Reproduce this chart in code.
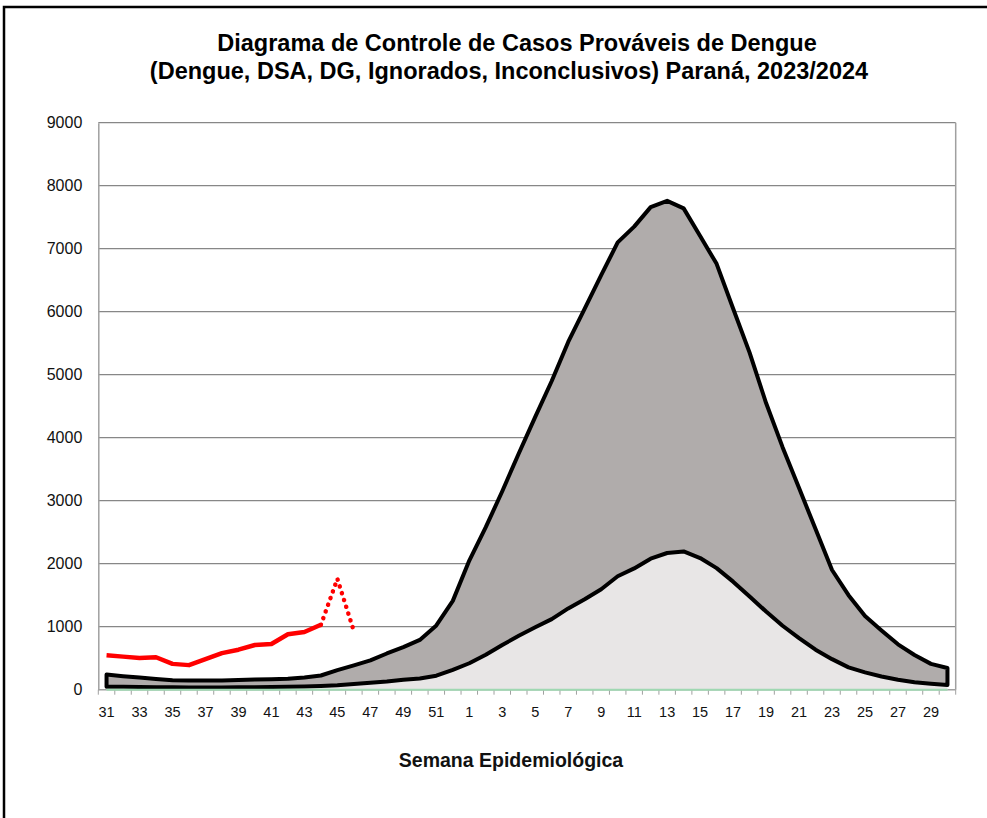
<!DOCTYPE html>
<html>
<head>
<meta charset="utf-8">
<script src="https://cdn.jsdelivr.net/npm/d3@7"></script>
<style>
  body { margin: 0; background: #fff; }
  svg { display: block; font-family: "Liberation Sans", Arial, sans-serif; }
</style>
</head>
<body>
<figure style="margin:0"></figure>
<script>
// semanas epidemiológicas 31/2023 .. 30/2024
const semanas = [
  "31", "32", "33", "34", "35", "36", "37", "38", "39", "40", "41",
  "42", "43", "44", "45", "46", "47", "48", "49", "50", "51", "52",
  "1", "2", "3", "4", "5", "6", "7", "8", "9", "10", "11", "12", "13",
  "14", "15", "16", "17", "18", "19", "20", "21", "22", "23", "24",
  "25", "26", "27", "28", "29", "30",
];

// limite superior do canal endêmico
const limiteSuperior = [
  240, 215, 195, 170, 150, 145, 145, 148, 155, 160, 165,
  172, 195, 225, 310, 385, 465, 575, 675, 790, 1020, 1410,
  2050, 2580, 3150, 3750, 4330, 4900, 5520, 6050, 6580, 7100, 7350, 7660, 7760,
  7640, 7200, 6760, 6050, 5350, 4550, 3850, 3200, 2550, 1900, 1500,
  1170, 940, 720, 550, 410, 345,
];

// mediana
const mediana = [
  45, 45, 42, 40, 38, 35, 35, 36, 38, 40, 42,
  45, 50, 58, 70, 90, 110, 130, 158, 178, 222, 316,
  420, 555, 710, 855, 990, 1120, 1290, 1435, 1595, 1800, 1925, 2080, 2170,
  2195, 2090, 1930, 1715, 1480, 1240, 1015, 820, 635, 485, 355,
  275, 210, 158, 118, 95, 75,
];

// limite inferior
const limiteInferior = [
  0, 0, 0, 0, 0, 0, 0, 0, 0, 0, 0,
  0, 0, 0, 0, 0, 0, 0, 0, 0, 0, 0,
  0, 0, 0, 0, 0, 0, 0, 0, 0, 0, 0, 0, 0,
  0, 0, 0, 0, 0, 0, 0, 0, 0, 0, 0,
  0, 0, 0, 0, 0, 0,
];

// casos prováveis 2023/2024 (semanas 31..46); as duas últimas ainda em revisão
const casos2324 = [545, 525, 505, 515, 410, 390, 485, 580, 635, 710, 725, 880, 915, 1030, 1760, 930];
const semanasProvisorias = 2;

const yTicks = [0, 1000, 2000, 3000, 4000, 5000, 6000, 7000, 8000, 9000];

const width = 987;
const height = 818;
const margin = { top: 122.7, right: 31.3, bottom: 128.3, left: 98.3 };

const draw = () => {
  const svg = d3
    .select("figure")
    .append("svg")
    .attr("width", width)
    .attr("height", height);

  // moldura externa
  svg
    .append("rect")
    .attr("x", 4)
    .attr("y", 7)
    .attr("width", width + 10)
    .attr("height", height + 10)
    .attr("fill", "none")
    .attr("stroke", "#000")
    .attr("stroke-width", 2.5);

  const x = d3
    .scaleBand()
    .domain(semanas)
    .range([margin.left, width - margin.right])
    .padding(0);
  const cx = (s) => x(s) + x.bandwidth() / 2;

  const y = d3
    .scaleLinear()
    .domain([0, 9000])
    .range([height - margin.bottom, margin.top]);

  // título
  const title = svg
    .append("text")
    .attr("text-anchor", "middle")
    .attr("font-weight", "bold")
    .attr("font-size", 23.5)
    .attr("fill", "#000");
  title.append("tspan").attr("x", 517).attr("y", 51).text("Diagrama de Controle de Casos Prováveis de Dengue");
  title
    .append("tspan")
    .attr("x", 509)
    .attr("y", 79)
    .text("(Dengue, DSA, DG, Ignorados, Inconclusivos) Paraná, 2023/2024");

  // grade horizontal
  svg
    .append("g")
    .selectAll("line")
    .data(yTicks.filter((d) => d > 0))
    .join("line")
    .attr("x1", margin.left)
    .attr("x2", width - margin.right)
    .attr("y1", (d) => y(d))
    .attr("y2", (d) => y(d))
    .attr("stroke", "#878787")
    .attr("stroke-width", 1.3);

  // bordas da área de plotagem
  svg
    .append("line")
    .attr("x1", width - margin.right)
    .attr("x2", width - margin.right)
    .attr("y1", margin.top)
    .attr("y2", y(0))
    .attr("stroke", "#a0a0a0")
    .attr("stroke-width", 1.5);

  const yAxis = d3
    .axisLeft(y)
    .tickValues(yTicks)
    .tickSize(0)
    .tickPadding(16)
    .tickFormat(d3.format("d"));
  svg
    .append("g")
    .attr("transform", `translate(${margin.left},0)`)
    .call(yAxis)
    .call((g) => g.select(".domain").attr("stroke", "#a0a0a0").attr("stroke-width", 1.5))
    .call((g) =>
      g.selectAll("text").attr("font-size", 16).attr("fill", "#111").attr("font-family", "Liberation Sans, Arial")
    );

  // eixo x: marcas nas divisas das semanas, rótulos a cada 2 semanas
  const xAxisG = svg.append("g").attr("transform", `translate(0,${y(0)})`);
  xAxisG
    .append("line")
    .attr("x1", margin.left)
    .attr("x2", width - margin.right)
    .attr("stroke", "#a0a0a0")
    .attr("stroke-width", 1.5);
  xAxisG
    .selectAll("line.tick")
    .data([...semanas.map((s) => x(s)), width - margin.right])
    .join("line")
    .attr("class", "tick")
    .attr("x1", (d) => d)
    .attr("x2", (d) => d)
    .attr("y1", 0)
    .attr("y2", 5)
    .attr("stroke", "#a0a0a0")
    .attr("stroke-width", 1);
  xAxisG
    .selectAll("text")
    .data(semanas.filter((_, i) => i % 2 === 0))
    .join("text")
    .attr("x", (d) => cx(d))
    .attr("y", 27)
    .attr("text-anchor", "middle")
    .attr("font-size", 14.5)
    .attr("fill", "#111")
    .text((d) => d);

  svg
    .append("text")
    .attr("x", 511)
    .attr("y", 767)
    .attr("text-anchor", "middle")
    .attr("font-weight", "bold")
    .attr("font-size", 19.5)
    .attr("fill", "#111")
    .text("Semana Epidemiológica");

  const rows = semanas.map((s, i) => ({
    s,
    sup: limiteSuperior[i],
    med: mediana[i],
    inf: limiteInferior[i],
  }));

  // área abaixo da mediana
  svg
    .append("path")
    .datum(rows)
    .attr("fill", "#e8e6e6")
    .attr(
      "d",
      d3
        .area()
        .x((d) => cx(d.s))
        .y0((d) => y(d.inf))
        .y1((d) => y(d.med))
    );

  // faixa entre mediana e limite superior (contornada)
  svg
    .append("path")
    .datum(rows)
    .attr("fill", "#b0acab")
    .attr("stroke", "#000")
    .attr("stroke-width", 4)
    .attr("stroke-linejoin", "round")
    .attr(
      "d",
      d3
        .area()
        .x((d) => cx(d.s))
        .y0((d) => y(d.med))
        .y1((d) => y(d.sup))
    );

  // limite inferior
  svg
    .append("path")
    .datum(rows)
    .attr("fill", "none")
    .attr("stroke", "#9fd8b2")
    .attr("stroke-width", 2)
    .attr(
      "d",
      d3
        .line()
        .x((d) => cx(d.s))
        .y((d) => y(d.inf))
    );

  // casos 2023/2024
  const casos = casos2324.map((v, i) => ({ s: semanas[i], v }));
  const casoLine = d3
    .line()
    .x((d) => cx(d.s))
    .y((d) => y(d.v));
  const nFirme = casos.length - semanasProvisorias;

  svg
    .append("path")
    .datum(casos.slice(0, nFirme))
    .attr("fill", "none")
    .attr("stroke", "#ff0000")
    .attr("stroke-width", 4.5)
    .attr("stroke-linejoin", "round")
    .attr("d", casoLine);

  svg
    .append("path")
    .datum(casos.slice(nFirme - 1))
    .attr("fill", "none")
    .attr("stroke", "#ff0000")
    .attr("stroke-width", 4.5)
    .attr("stroke-linecap", "round")
    .attr("stroke-dasharray", "0.1 7")
    .attr("d", casoLine);
};

window.onload = draw;
</script>
</body>
</html>
